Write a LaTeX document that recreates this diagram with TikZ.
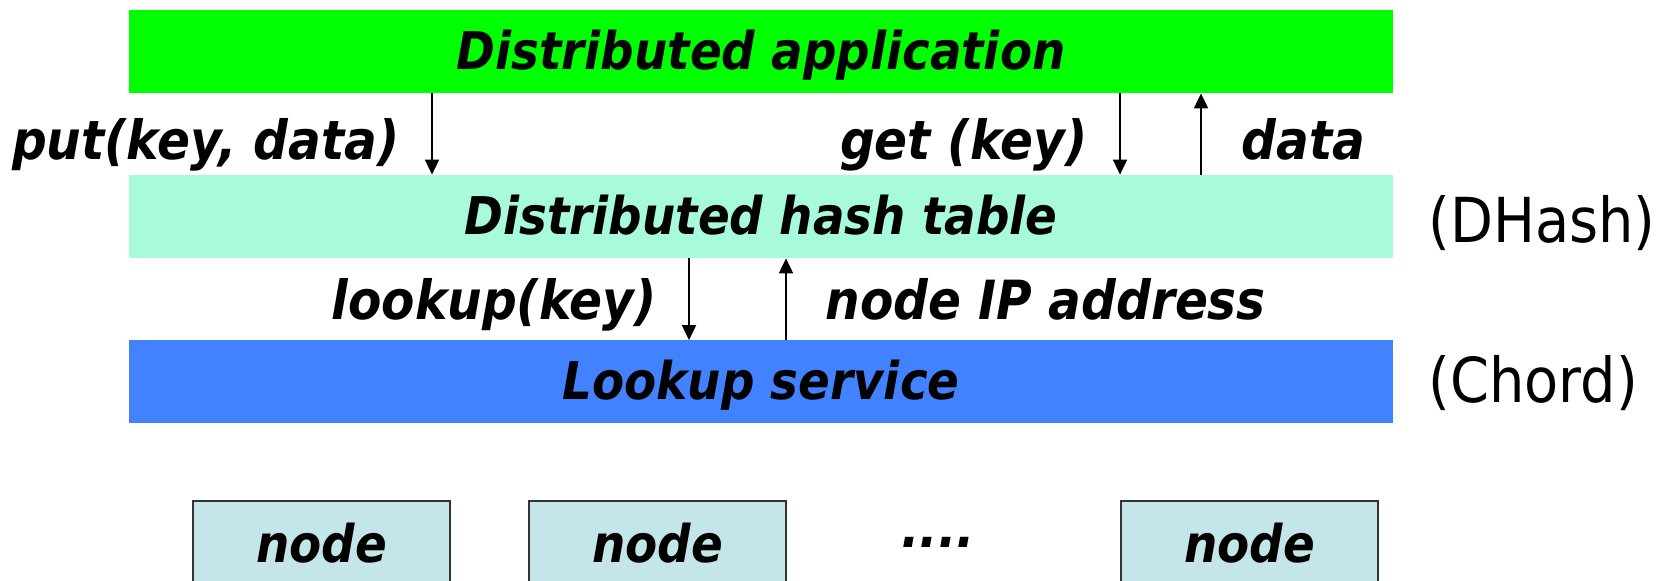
\documentclass[tikz,border=0pt]{standalone}
\usepackage{fontspec}
\setmainfont{DejaVu Sans}[FakeStretch=0.9]
\usetikzlibrary{arrows.meta}

\definecolor{appgreen}{HTML}{00FF00}
\definecolor{dhtaqua}{HTML}{A7FADA}
\definecolor{lookblue}{HTML}{4382FF}
\definecolor{peercyan}{HTML}{C4E6E8}
\definecolor{peerline}{HTML}{333333}

\newcommand{\lblfont}{\fontsize{26}{31}\selectfont\bfseries\itshape}
\newcommand{\callfont}{\fontsize{27}{32}\selectfont\bfseries\itshape}
\newcommand{\sidefont}{\fontsize{31}{37}\selectfont}

\begin{document}
\begin{tikzpicture}[x = 0.5pt, y = -0.5pt,
  layer/.style = {minimum width = 632pt, minimum height = 41.5pt, inner sep = 0pt,
                  text height = 18pt, text depth = 0pt, font = \lblfont},
  peer/.style = {draw = peerline, line width = 1pt, fill = peercyan,
                 minimum width = 128.5pt, minimum height = 43pt, inner sep = 0pt,
                 text height = 19pt, text depth = 0pt, font = \lblfont},
  lbl/.style = {inner sep = 0pt, font = \callfont},
  side/.style = {inner sep = 0pt, text height = 22pt, text depth = 0pt, font = \sidefont},
  arr/.style = {line width = 1pt, -{Triangle[length = 7.5pt, width = 7pt]}}]

\useasboundingbox (0,0) rectangle (1670,581);

% layers
\node[layer, fill = appgreen] (app) at (761,51.5) {Distributed application};
\node[layer, fill = dhtaqua] (dht) at (761,216.5) {Distributed hash table};
\node[layer, fill = lookblue] (lks) at (761,382) {Lookup service};

\node[side, anchor = west] (dhash) at (1428,221) {(DHash)};
\node[side, anchor = west] (chord) at (1428,381) {(Chord)};

% calls between layers
\coordinate (aput) at (432,0);
\coordinate (aget) at (1120,0);
\coordinate (adata) at (1201,0);
\coordinate (alook) at (689,0);
\coordinate (aip) at (786,0);

\draw [arr] (app.south -| aput) -- (dht.north -| aput);
\draw [arr] (app.south -| aget) -- (dht.north -| aget);
\draw [arr] (dht.north -| adata) -- (app.south -| adata);
\draw [arr] (dht.south -| alook) -- (lks.north -| alook);
\draw [arr] (lks.north -| aip) -- (dht.south -| aip);

\node[lbl, anchor = base east] (lput) at (400,160) {put(key, data)};
\node[lbl, anchor = base east] (lget) at (1088,160) {get (key)};
\node[lbl, anchor = base west] (ldata) at (1241,160) {data};
\node[lbl, anchor = base east] (llook) at (657,320) {lookup(key)};
\node[lbl, anchor = base west] (lip) at (825,320) {node IP address};

% peers
\node[peer] (n1) at (321.5,544) {node};
\node[peer] (n2) at (657.5,544) {node};
\node[lbl, anchor = base] (dots) at (938,548) {....};
\node[peer] (n3) at (1249.5,544) {node};

\end{tikzpicture}
\end{document}
